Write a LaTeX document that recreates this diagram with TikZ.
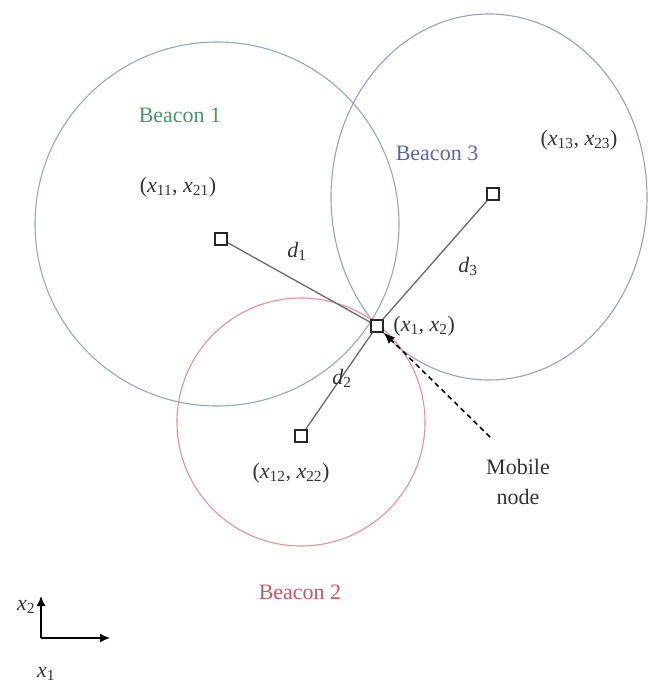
\documentclass[tikz,border=0pt]{standalone}
\usepackage{fontspec}
\setmainfont{Liberation Serif}
\usepackage{tikz}
\usetikzlibrary{arrows.meta,positioning}
\usepackage{xcolor}
\definecolor{beacongreen}{RGB}{70,150,105}
\definecolor{beaconblue}{RGB}{90,100,175}
\definecolor{beaconred}{RGB}{205,85,95}
\definecolor{ringgray}{RGB}{150,168,182}
\definecolor{ringblue}{RGB}{155,160,185}
\definecolor{ringpink}{RGB}{228,145,152}
\definecolor{linkgray}{RGB}{105,105,105}
\newcommand{\xv}[1]{\textit{x}\textsubscript{#1}}
\newcommand{\dv}[1]{\textit{d}\textsubscript{#1}}

\begin{document}
\begin{tikzpicture}[x=1pt,y=-1pt,every node/.style={font=\fontsize{22}{30}\selectfont,text=black!80},
  bsq/.style={draw=black!85,fill=white,line width=1.8pt,minimum size=12pt,inner sep=0pt},
  link/.style={linkgray,line width=1.3pt}]
  \useasboundingbox (0,0) rectangle (648,690);
  % Range circles
  \draw[ringgray,line width=1.1pt] (217,224) circle (182pt);
  \draw[ringblue,line width=1.1pt] (489,197) ellipse (158pt and 183pt);
  \draw[ringpink,line width=1.1pt] (301,422) circle (124pt);
  % Beacons and mobile node
  \node[bsq] (b1) at (221,239) {};
  \node[bsq] (b3) at (493,194) {};
  \node[bsq] (b2) at (301,436) {};
  \node[bsq] (mob) at (377,326) {};
  \draw[link] (b1) -- (mob);
  \draw[link] (b3) -- (mob);
  \draw[link] (b2) -- (mob);
  % Labels
  \node[text=beacongreen] (l1) at (180,115) {Beacon 1};
  \node[text=beaconblue] (l3) at (437,153) {Beacon 3};
  \node[text=beaconred] (l2) at (300,592) {Beacon 2};
  \node (p1) at (178,187) {(\xv{11}, \xv{21})};
  \node (p3) at (579,140) {(\xv{13}, \xv{23})};
  \node (p2) at (291,473) {(\xv{12}, \xv{22})};
  \node[right=6pt of mob] (pm) {(\xv{1}, \xv{2})};
  \node (d1) at (297,251) {\dv{1}};
  \node (d3) at (468,266) {\dv{3}};
  \node (d2) at (342,378) {\dv{2}};
  \node[align=center] (mlab) at (518,482) {Mobile\\node};
  \coordinate (mtail) at (490,437);
  \draw[black,line width=1.6pt,dash pattern=on 5pt off 4pt,-{Latex[length=11pt,width=9pt]}] (mtail) -- (mob);
  % Axes
  \coordinate (o) at (41,638);
  \coordinate (ax2) at (41,596);
  \coordinate (ax1) at (110,638);
  \draw[black,line width=1.5pt,-{Latex[length=10pt,width=9pt]}] (o) -- (ax2);
  \draw[black,line width=1.5pt,-{Latex[length=10pt,width=9pt]}] (o) -- (ax1);
  \node (lx2) at (26,607) {\xv{2}};
  \node (lx1) at (46,674) {\xv{1}};
\end{tikzpicture}
\end{document}
